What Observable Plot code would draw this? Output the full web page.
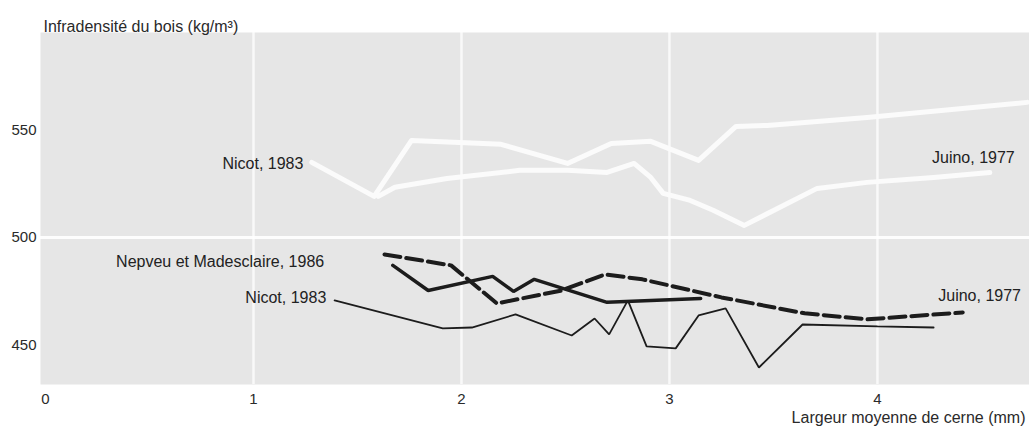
<!DOCTYPE html>
<html>
<head>
<meta charset="utf-8">
<script src="https://cdn.jsdelivr.net/npm/d3@7"></script>
<script src="https://cdn.jsdelivr.net/npm/@observablehq/plot@0.6"></script>
<style>
  html, body { margin: 0; padding: 0; background: #ffffff; }
  #chart svg { display: block; }
</style>
</head>
<body>
<div id="chart"></div>
<script>
// ---- Data ----
// White curves (upper group)
const nicotUpperX = [1.28, 1.58, 1.76, 1.99, 2.19, 2.51, 2.72, 2.91, 3.14, 3.32, 3.47, 3.95, 4.72];
const nicotUpperY = [534.9, 519.1, 545.1, 544.2, 543.3, 534.4, 543.7, 544.7, 535.8, 551.6, 552.1, 555.8, 562.8];
const juinoUpperX = [1.60, 1.68, 1.93, 2.28, 2.51, 2.70, 2.83, 2.91, 2.97, 3.10, 3.21, 3.36, 3.71, 3.95, 4.27, 4.54];
const juinoUpperY = [519.1, 523.3, 527.4, 531.2, 531.2, 530.2, 534.4, 527.9, 520.5, 517.2, 512.6, 505.6, 522.8, 525.6, 527.9, 530.2];

// Dark curves (lower group)
const nepveuX = [1.67, 1.84, 2.15, 2.25, 2.35, 2.70, 3.15];
const nepveuY = [487.0, 475.3, 481.9, 474.9, 480.5, 469.8, 471.6];
const nicotLowerX = [1.39, 1.91, 2.05, 2.26, 2.53, 2.64, 2.71, 2.80, 2.89, 3.03, 3.14, 3.27, 3.43, 3.64, 4.00, 4.27];
const nicotLowerY = [470.7, 457.7, 458.1, 464.2, 454.4, 462.3, 454.9, 470.7, 449.3, 448.4, 463.7, 467.0, 439.5, 459.5, 458.6, 458.1];
const juinoLowerX = [1.63, 1.95, 2.17, 2.48, 2.69, 2.87, 3.25, 3.65, 3.95, 4.41];
const juinoLowerY = [492.1, 487.0, 469.3, 475.3, 482.8, 480.5, 472.1, 464.7, 461.9, 465.1];

// Series labels
const labelText = ["Nicot, 1983", "Juino, 1977", "Nepveu et Madesclaire, 1986", "Nicot, 1983", "Juino, 1977"];
const labelX = [1.24, 4.66, 1.34, 1.35, 4.69];
const labelY = [534.4, 537.2, 488.4, 472.1, 472.6];

// Axis ticks & titles
const xTicks = [0, 1, 2, 3, 4];
const yTicks = [450, 500, 550];
const gridX = [1, 2, 3, 4];
const gridY = [500];
const yTitle = "Infradensité du bois (kg/m³)";
const xTitle = "Largeur moyenne de cerne (mm)";

// ---- Build tables ----
const toRows = (xs, ys) => xs.map((x, i) => ({x, y: ys[i]}));
const nicotUpper = toRows(nicotUpperX, nicotUpperY);
const juinoUpper = toRows(juinoUpperX, juinoUpperY);
const nepveu = toRows(nepveuX, nepveuY);
const nicotLower = toRows(nicotLowerX, nicotLowerY);
const juinoLower = toRows(juinoLowerX, juinoLowerY);
const labels = labelText.map((t, i) => ({t, x: labelX[i], y: labelY[i]}));

const font = "'Liberation Sans', Arial, Helvetica, sans-serif";

const chart = Plot.plot({
  width: 1029,
  height: 426,
  marginLeft: 40,
  marginRight: 0,
  marginTop: 32,
  marginBottom: 42,
  style: {fontFamily: font, fontSize: "15px", color: "#2a2a2a", background: "#ffffff"},
  x: {domain: [-0.024, 4.731]},
  y: {domain: [431.6, 595.3]},
  marks: [
    Plot.frame({fill: "#e6e6e6", stroke: null}),
    Plot.ruleX(gridX, {stroke: "#ffffff", strokeWidth: 2.5, strokeOpacity: 0.75}),
    Plot.ruleY(gridY, {stroke: "#ffffff", strokeWidth: 3, strokeOpacity: 0.9}),
    Plot.axisY(yTicks, {tickSize: 0, tickPadding: 4, fontSize: 15, label: null, fill: "#2a2a2a", tickFormat: d => String(d)}),
    Plot.axisX(xTicks, {tickSize: 0, tickPadding: 9, fontSize: 15, label: null, fill: "#2a2a2a", tickFormat: d => String(d)}),
    Plot.line(nicotUpper, {x: "x", y: "y", stroke: "#fbfbfb", strokeWidth: 5, strokeLinejoin: "round", strokeLinecap: "round"}),
    Plot.line(juinoUpper, {x: "x", y: "y", stroke: "#fbfbfb", strokeWidth: 5, strokeLinejoin: "round", strokeLinecap: "round"}),
    Plot.line(nicotLower, {x: "x", y: "y", stroke: "#1c1c1c", strokeWidth: 1.8, strokeLinejoin: "miter"}),
    Plot.line(nepveu, {x: "x", y: "y", stroke: "#1c1c1c", strokeWidth: 3.5, strokeLinejoin: "miter"}),
    Plot.line(juinoLower, {x: "x", y: "y", stroke: "#1c1c1c", strokeWidth: 4, strokeDasharray: "16,6"}),
    Plot.text(labels, {x: "x", y: "y", text: "t", textAnchor: "end", fontSize: 16, fill: "#222222"}),
    Plot.text([yTitle], {frameAnchor: "top-left", dx: 3, dy: -12, textAnchor: "start", fontSize: 16, fill: "#2a2a2a"}),
    Plot.text([xTitle], {frameAnchor: "bottom-right", dx: -4, dy: 38, textAnchor: "end", fontSize: 16, fill: "#2a2a2a"})
  ]
});
document.getElementById("chart").appendChild(chart);
</script>
</body>
</html>
